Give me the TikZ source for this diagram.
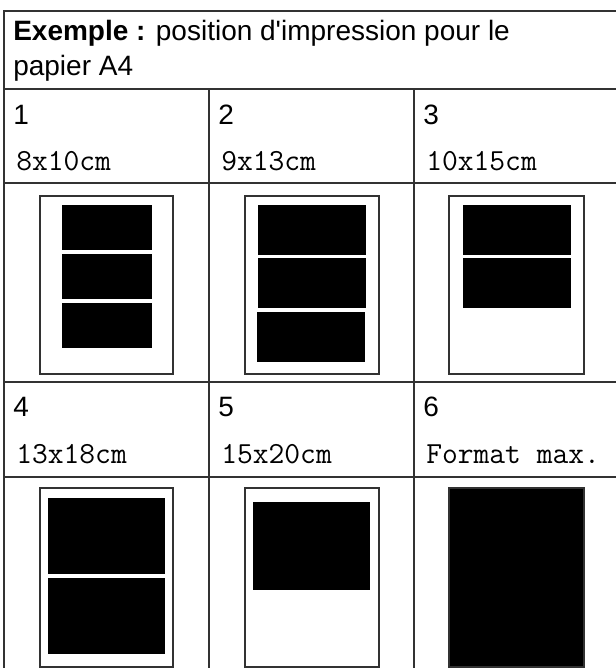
\documentclass[tikz,border=0pt]{standalone}
\usepackage{fontspec}
\setmainfont{Liberation Sans}[Ligatures=TeXOff]
\usepackage{xcolor}
\usepackage{tikz}
\definecolor{Rule}{RGB}{50, 50, 50}
\definecolor{Ink}{RGB}{0, 0, 0}

\begin{document}
\begin{tikzpicture}[
    x=0.75pt, y=-0.75pt,
    grid/.style={draw=Rule, line width=0.9pt},
    paper/.style={draw=Rule, line width=1.1pt, fill=white},
    fullpaper/.style={draw=Rule, line width=1.1pt, fill=Ink},
    photo/.style={fill=Ink},
    title/.style={anchor=base west, inner sep=0pt, font=\fontsize{21pt}{25pt}\selectfont},
    num/.style={anchor=base west, inner sep=0pt, font=\fontsize{21pt}{25pt}\selectfont},
    size/.style={anchor=base west, inner sep=0pt, font=\fontsize{23pt}{27pt}\ttfamily},
]
\useasboundingbox (0,0) rectangle (616,668);

% table rules
\draw[grid] (620,11) -- (4,11) -- (4,672);
\draw[grid] (4,89) -- (620,89);
\draw[grid] (4,183) -- (620,183);
\draw[grid] (4,382) -- (620,382);
\draw[grid] (4,477) -- (620,477);
\draw[grid] (209,89) -- (209,672);
\draw[grid] (414,89) -- (414,672);

% heading
\node[title] (head1) at (13,40) {\textbf{Exemple :} position d'impression pour le};
\node[title] (head2) at (13,75) {papier A4};

% first row
\node[num] (n1) at (13,124) {1};
\node[num] (n2) at (218,124) {2};
\node[num] (n3) at (423,124) {3};
\node[size] (s1) at (16,170) {8x10cm};
\node[size] (s2) at (221,170) {9x13cm};
\node[size] (s3) at (426,170) {10x15cm};

\draw[paper] (40,196) rectangle (173,374);
\fill[photo] (62,205) rectangle (152,250);
\fill[photo] (62,254) rectangle (152,299);
\fill[photo] (62,303) rectangle (152,348);

\draw[paper] (245,196) rectangle (379,374);
\fill[photo] (258,205) rectangle (366,255);
\fill[photo] (258,258) rectangle (366,308);
\fill[photo] (257,312) rectangle (365,362);

\draw[paper] (449,196) rectangle (584,374);
\fill[photo] (463,205) rectangle (571,255);
\fill[photo] (463,258) rectangle (571,308);

% second row
\node[num] (n4) at (13,416) {4};
\node[num] (n5) at (218,416) {5};
\node[num] (n6) at (423,416) {6};
\node[size] (s4) at (16,463) {13x18cm};
\node[size] (s5) at (221,463) {15x20cm};
\node[size] (s6) at (426,463) {Format max.};

\draw[paper] (40,488) rectangle (173,667);
\fill[photo] (48,498) rectangle (165,574);
\fill[photo] (48,578) rectangle (165,654);

\draw[paper] (245,488) rectangle (379,667);
\fill[photo] (253,502) rectangle (370,590);

\draw[fullpaper] (449,488) rectangle (584,667);
\end{tikzpicture}
\end{document}
